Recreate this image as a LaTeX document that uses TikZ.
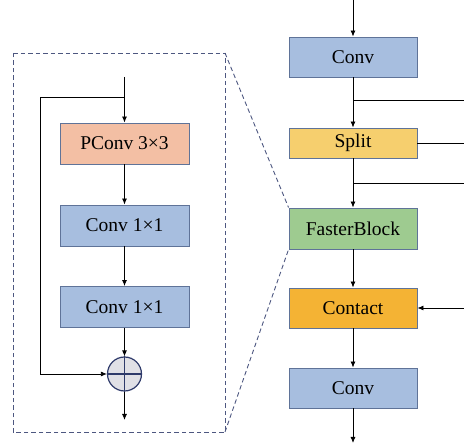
\documentclass[tikz,border=0pt]{standalone}
\usepackage{fontspec}
\setmainfont{Liberation Serif}
\usetikzlibrary{arrows.meta}
\definecolor{convColor}{RGB}{167,190,223}
\definecolor{pconvColor}{RGB}{243,191,164}
\definecolor{splitColor}{RGB}{246,207,110}
\definecolor{fasterColor}{RGB}{158,203,144}
\definecolor{contactColor}{RGB}{244,179,52}
\definecolor{edgeColor}{RGB}{95,115,152}
\definecolor{navyColor}{RGB}{46,58,106}
\definecolor{sumColor}{RGB}{224,224,230}
\tikzset{
  block/.style={draw=edgeColor,line width=0.9pt,minimum width=128pt,minimum height=40pt,
    inner sep=0pt,font=\fontsize{19.5}{22}\selectfont},
  flow/.style={line width=0.8pt,-{Latex[length=6pt,width=5pt]}},
  wire/.style={line width=0.8pt},
  zoomline/.style={navyColor!85,line width=0.9pt,dash pattern=on 4.5pt off 3pt}
}
\begin{document}
\begin{tikzpicture}[x=1pt,y=-1pt]
\path[use as bounding box] (0,0) rectangle (464,443);

% main column
\node[block,fill=convColor] (convIn) at (353,57) {Conv};
\node[block,fill=splitColor,minimum height=30pt] (split) at (353,143) {Split};
\node[block,fill=fasterColor,minimum height=41pt] (faster) at (353,228.5) {FasterBlock};
\node[block,fill=contactColor] (contact) at (353,308) {Contact};
\node[block,fill=convColor] (convOut) at (353,388) {Conv};

\coordinate (mainIn) at (353,0);
\coordinate (mainOut) at (353,443);
\coordinate (tapA) at (353,100);
\coordinate (tapAEnd) at (464,100);
\coordinate (splitEnd) at (464,143);
\coordinate (tapB) at (353,183);
\coordinate (tapBEnd) at (464,183);
\coordinate (contactIn) at (464,308);

\draw[flow] (mainIn) -- (convIn);
\draw[flow] (convIn) -- (split);
\draw[wire] (tapA) -- (tapAEnd);
\draw[wire] (split.east) -- (splitEnd);
\draw[flow] (split) -- (faster);
\draw[wire] (tapB) -- (tapBEnd);
\draw[flow] (faster) -- (contact);
\draw[flow] (contactIn) -- (contact.east);
\draw[flow] (contact) -- (convOut);
\draw[flow] (convOut) -- (mainOut);

% FasterBlock detail
\coordinate (boxTL) at (13,53);
\coordinate (boxTR) at (225,53);
\coordinate (boxBR) at (225,432);
\coordinate (boxBL) at (13,432);
\draw[zoomline] (boxTL) -- (boxTR) -- (boxBR) -- (boxBL) -- cycle;
\draw[zoomline] (boxTR) -- (faster.north west);
\draw[zoomline] (boxBR) -- (faster.south west);

\node[block,fill=pconvColor,minimum width=129pt,minimum height=41pt] (pconv) at (124.5,143.5) {PConv 3×3};
\node[block,fill=convColor,minimum width=129pt,minimum height=41pt] (convA) at (124.5,225.5) {Conv 1×1};
\node[block,fill=convColor,minimum width=129pt,minimum height=41pt] (convB) at (124.5,307) {Conv 1×1};
\node[circle,draw=navyColor,fill=sumColor,line width=1.2pt,minimum size=34pt,inner sep=0pt] (sum) at (124.5,374) {};
\draw[navyColor,line width=1.2pt] (sum.north) -- (sum.south) (sum.west) -- (sum.east);

\coordinate (blockIn) at (124.5,77);
\coordinate (skipTop) at (124.5,97);
\coordinate (skipCorner) at (40,97);
\coordinate (skipLow) at (40,374);
\coordinate (blockOut) at (124.5,420);

\draw[flow] (blockIn) -- (pconv);
\draw[flow] (skipTop) -- (skipCorner) -- (skipLow) -- (sum.west);
\draw[flow] (pconv) -- (convA);
\draw[flow] (convA) -- (convB);
\draw[flow] (convB) -- (sum);
\draw[flow] (sum) -- (blockOut);
\end{tikzpicture}
\end{document}
